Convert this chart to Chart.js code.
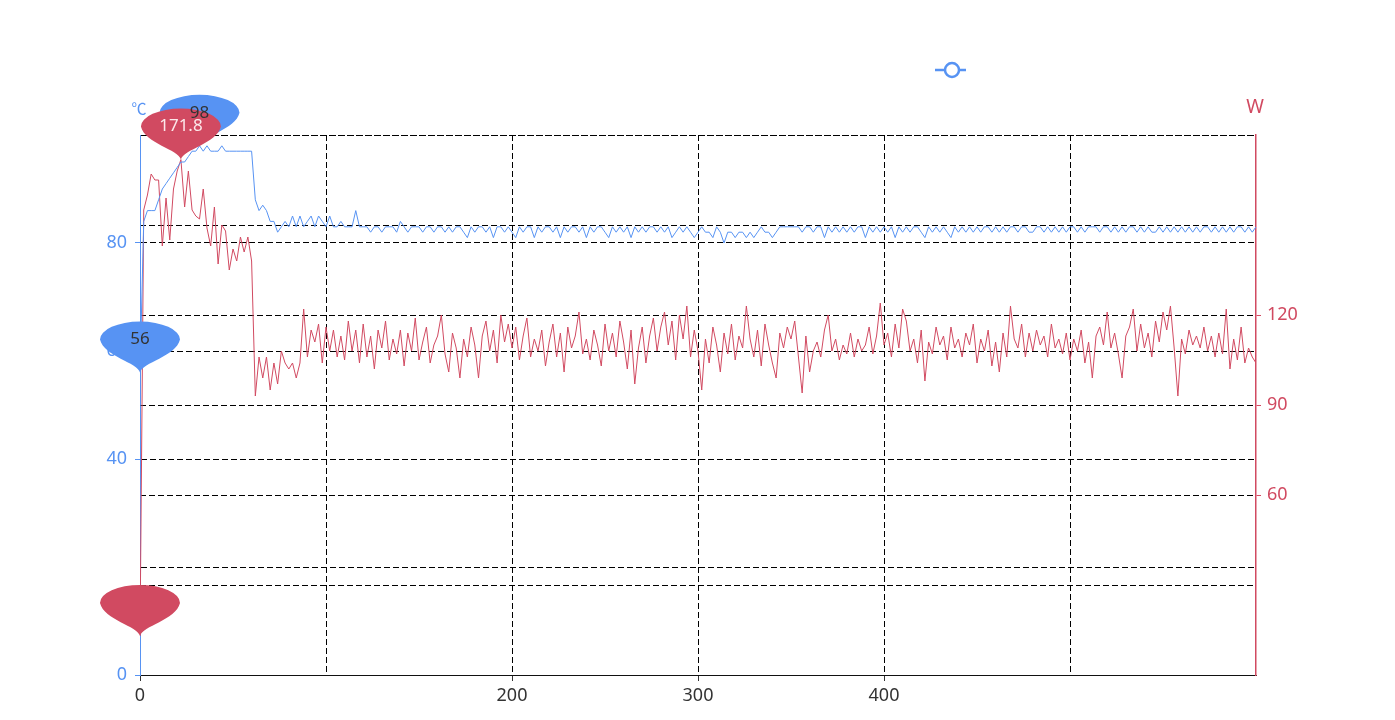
<!DOCTYPE html>
<html>
<head>
<meta charset="utf-8">
<script src="https://cdn.jsdelivr.net/npm/chart.js@4/dist/chart.umd.min.js"></script>
<style>
  body { margin: 0; background: #fff; }
</style>
</head>
<body>
<canvas id="myChart" width="1395" height="720"></canvas>
<script>
// temperature (℃) and power (W), one reading every 2 s
var temperature = [
    56, 84, 86, 86, 86, 88, 90, 91, 92, 93,
    94, 95, 95, 96, 97, 97, 98, 97, 98, 97,
    97, 97, 98, 97, 97, 97, 97, 97, 97, 97,
    97, 88, 86, 87, 86, 84, 84, 82, 83, 84,
    83, 85, 83, 85, 83, 84, 85, 83, 85, 84,
    83, 85, 83, 83, 84, 83, 83, 83, 86, 83,
    83, 83, 82, 83, 83, 82, 83, 83, 83, 82,
    84, 83, 82, 83, 83, 83, 82, 83, 83, 82,
    83, 83, 82, 83, 82, 83, 83, 82, 81, 83,
    82, 83, 83, 82, 83, 81, 83, 83, 82, 83,
    82, 81, 83, 82, 83, 83, 81, 83, 82, 83,
    83, 82, 83, 81, 83, 82, 83, 83, 82, 83,
    81, 83, 82, 83, 83, 82, 81, 83, 82, 83,
    82, 83, 81, 83, 82, 83, 82, 83, 83, 82,
    83, 82, 83, 81, 82, 83, 82, 83, 82, 81,
    82, 83, 82, 82, 81, 83, 82, 80, 82, 82,
    81, 82, 82, 81, 82, 81, 82, 83, 82, 82,
    81, 82, 83, 83, 83, 83, 83, 83, 82, 83,
    83, 82, 83, 83, 81, 83, 82, 83, 82, 83,
    82, 83, 82, 83, 83, 81, 83, 82, 83, 82,
    83, 82, 83, 81, 83, 82, 83, 82, 83, 83,
    82, 81, 83, 82, 83, 82, 83, 82, 81, 83,
    82, 83, 82, 83, 82, 83, 82, 83, 83, 82,
    83, 82, 83, 82, 83, 83, 82, 83, 83, 82,
    82, 83, 83, 82, 83, 82, 83, 82, 83, 82,
    83, 83, 82, 83, 82, 83, 83, 83, 82, 83,
    83, 82, 83, 82, 83, 82, 83, 83, 82, 83,
    82, 83, 82, 82, 83, 82, 83, 82, 83, 82,
    83, 82, 83, 82, 83, 82, 83, 83, 82, 83,
    82, 83, 82, 83, 82, 83, 83, 82, 83, 82,
    83
];
var power = [
    13, 155, 160, 167, 165, 165, 143, 159, 145, 162,
    168, 171.8, 156, 168, 155, 153, 152, 162, 149, 143,
    156, 137, 150, 148, 135, 142, 138, 146, 141, 146,
    138, 93, 106, 99, 106, 95, 104, 97, 108, 104,
    102, 104, 99, 104, 122, 106, 115, 111, 117, 104,
    116, 108, 115, 106, 113, 105, 118, 108, 115, 104,
    117, 106, 113, 102, 115, 109, 118, 105, 112, 107,
    115, 103, 114, 108, 119, 105, 111, 116, 104, 110,
    113, 120, 107, 101, 114, 109, 99, 112, 106, 116,
    110, 99, 113, 118, 108, 115, 104, 120, 111, 117,
    109, 116, 105, 113, 119, 106, 112, 108, 115, 103,
    111, 117, 106, 114, 101, 116, 109, 113, 121, 107,
    112, 105, 115, 110, 103, 117, 108, 114, 106, 118,
    111, 102, 115, 97, 109, 116, 104, 113, 119, 108,
    116, 121, 110, 118, 105, 120, 112, 123, 106, 115,
    108, 95, 112, 104, 116, 110, 101, 114, 107, 117,
    105, 113, 109, 123, 112, 106, 115, 103, 117, 110,
    104, 99, 114, 109, 116, 112, 118, 106, 94, 113,
    101, 108, 111, 106, 115, 120, 108, 112, 105, 110,
    107, 114, 106, 112, 108, 110, 116, 107, 113, 124,
    110, 114, 106, 117, 109, 122, 118, 108, 112, 104,
    115, 98, 111, 107, 116, 110, 113, 105, 116, 109,
    112, 106, 114, 110, 117, 104, 112, 108, 115, 103,
    111, 101, 114, 106, 123, 112, 109, 117, 106, 114,
    108, 115, 110, 113, 106, 117, 109, 112, 107, 114,
    105, 112, 108, 115, 104, 111, 99, 113, 116, 110,
    121, 109, 114, 107, 99, 113, 116, 122, 108, 117,
    109, 114, 106, 118, 111, 121, 115, 123, 109, 93,
    112, 107, 115, 110, 113, 109, 116, 108, 113, 106,
    114, 107, 122, 102, 112, 105, 116, 104, 109, 106,
    104
];
var seconds = temperature.map(function (v, i) { return i * 2; });

// only these tick labels show in the picture
var xTickLabels = [0, 200, 300, 400];
var tempTickLabels = [0, 40, 60, 80];
var powerTickLabels = [60, 90, 120];

var blue = '#5793f3';
var red = '#d14a61';
var font = '"Noto Sans", "DejaVu Sans", sans-serif';

function toPoints(values) {
    return values.map(function (v, i) { return { x: seconds[i], y: v }; });
}

function drawPin(ctx, x, y, color) {
    var cy = y - 33, rx = 40, ry = 18;
    ctx.save();
    ctx.fillStyle = color;
    ctx.beginPath();
    ctx.moveTo(x, y);
    ctx.bezierCurveTo(x - 2, y - 10, x - rx * 0.9, cy + ry * 0.95, x - rx, cy);
    ctx.ellipse(x, cy, rx, ry, 0, Math.PI, 2 * Math.PI);
    ctx.bezierCurveTo(x + rx * 0.9, cy + ry * 0.95, x + 2, y - 10, x, y);
    ctx.closePath();
    ctx.fill();
    ctx.restore();
}

function drawPinText(ctx, x, y, text, color) {
    ctx.save();
    ctx.fillStyle = color;
    ctx.font = '17px ' + font;
    ctx.textAlign = 'center';
    ctx.textBaseline = 'middle';
    ctx.fillText(text, x, y - 33);
    ctx.restore();
}

// max / min pins, axis names and the legend icon
var extras = {
    id: 'extras',
    afterDatasetsDraw: function (chart) {
        var ctx = chart.ctx;
        var xs = chart.scales.x, yt = chart.scales.yTemp, yp = chart.scales.yPower;

        var tMax = temperature.indexOf(Math.max.apply(null, temperature));
        var tMin = temperature.indexOf(Math.min.apply(null, temperature));
        var pMax = power.indexOf(Math.max.apply(null, power));
        var pMin = power.indexOf(Math.min.apply(null, power));

        var pins = [
            { x: xs.getPixelForValue(seconds[tMin]), y: yt.getPixelForValue(temperature[tMin]), c: blue, t: String(temperature[tMin]), tc: '#333' },
            { x: xs.getPixelForValue(seconds[pMin]), y: yp.getPixelForValue(power[pMin]), c: red, t: '', tc: '#fff' },
            { x: xs.getPixelForValue(seconds[tMax]), y: yt.getPixelForValue(temperature[tMax]), c: blue, t: String(temperature[tMax]), tc: '#333' },
            { x: xs.getPixelForValue(seconds[pMax]), y: yp.getPixelForValue(power[pMax]), c: red, t: String(power[pMax]), tc: '#fce8ea' }
        ];
        pins.forEach(function (p) { drawPin(ctx, p.x, p.y, p.c); });
        pins.forEach(function (p) { if (p.t) drawPinText(ctx, p.x, p.y, p.t, p.tc); });

        ctx.save();
        ctx.textAlign = 'center';
        ctx.textBaseline = 'middle';
        ctx.fillStyle = blue;
        ctx.font = '15px "Noto Sans CJK SC", ' + font;
        ctx.fillText('℃', chart.chartArea.left - 1, 108);
        ctx.fillStyle = red;
        ctx.font = '19px ' + font;
        ctx.fillText('W', chart.chartArea.right - 1, 108);

        // legend icon
        ctx.strokeStyle = blue;
        ctx.lineWidth = 2.5;
        ctx.beginPath();
        ctx.moveTo(935, 70);
        ctx.lineTo(966, 70);
        ctx.stroke();
        ctx.beginPath();
        ctx.arc(952, 70, 7, 0, 2 * Math.PI);
        ctx.fillStyle = '#fff';
        ctx.fill();
        ctx.stroke();
        ctx.restore();
    }
};

new Chart('myChart', {
    type: 'line',
    data: {
        datasets: [{
            label: '温度',
            data: toPoints(temperature),
            yAxisID: 'yTemp',
            borderColor: blue,
            borderWidth: 1,
            pointRadius: 0,
            tension: 0
        }, {
            label: '功率',
            data: toPoints(power),
            yAxisID: 'yPower',
            borderColor: red,
            borderWidth: 1,
            pointRadius: 0,
            tension: 0
        }]
    },
    options: {
        responsive: false,
        animation: false,
        layout: { padding: { top: 135, left: 0, right: 0, bottom: 0 } },
        plugins: {
            legend: { display: false },
            tooltip: { enabled: false }
        },
        scales: {
            x: {
                type: 'linear',
                min: 0,
                max: 600,
                afterFit: function (s) { s.height = 45; },
                ticks: {
                    stepSize: 100,
                    padding: 4,
                    color: '#333',
                    font: { size: 18, family: font },
                    maxRotation: 0,
                    callback: function (v) { return xTickLabels.indexOf(v) >= 0 ? String(v) : ''; }
                },
                grid: {
                    color: function (c) { return (c.tick && (c.tick.value === 0 || c.tick.value === 600)) ? 'rgba(0,0,0,0)' : '#000'; },
                    tickColor: function (c) { return (c.tick && xTickLabels.indexOf(c.tick.value) >= 0) ? '#333' : 'rgba(0,0,0,0)'; },
                    tickLength: 6,
                    lineWidth: 1
                },
                border: { color: '#111', width: 1, dash: [6, 3] }
            },
            yTemp: {
                position: 'left',
                min: 0,
                max: 100,
                afterFit: function (s) { s.width = 140; },
                ticks: {
                    stepSize: 20,
                    padding: 8,
                    color: blue,
                    font: { size: 18, family: font },
                    callback: function (v) { return tempTickLabels.indexOf(v) >= 0 ? String(v) : ''; }
                },
                grid: {
                    color: '#000',
                    tickColor: function (c) { return (c.tick && tempTickLabels.indexOf(c.tick.value) >= 0) ? blue : 'rgba(0,0,0,0)'; },
                    tickLength: 5,
                    lineWidth: 1
                },
                border: { color: blue, width: 1, dash: [6, 3] }
            },
            yPower: {
                position: 'right',
                min: 0,
                max: 180,
                afterFit: function (s) { s.width = 139; },
                ticks: {
                    stepSize: 30,
                    padding: 6,
                    color: red,
                    font: { size: 18, family: font },
                    callback: function (v) { return powerTickLabels.indexOf(v) >= 0 ? String(v) : ''; }
                },
                grid: {
                    color: '#000',
                    tickColor: function (c) { return (c.tick && powerTickLabels.indexOf(c.tick.value) >= 0) ? red : 'rgba(0,0,0,0)'; },
                    tickLength: 5,
                    lineWidth: 1
                },
                border: { color: red, width: 1.5, dash: [6, 3] }
            }
        }
    },
    plugins: [extras]
});
</script>
</body>
</html>
